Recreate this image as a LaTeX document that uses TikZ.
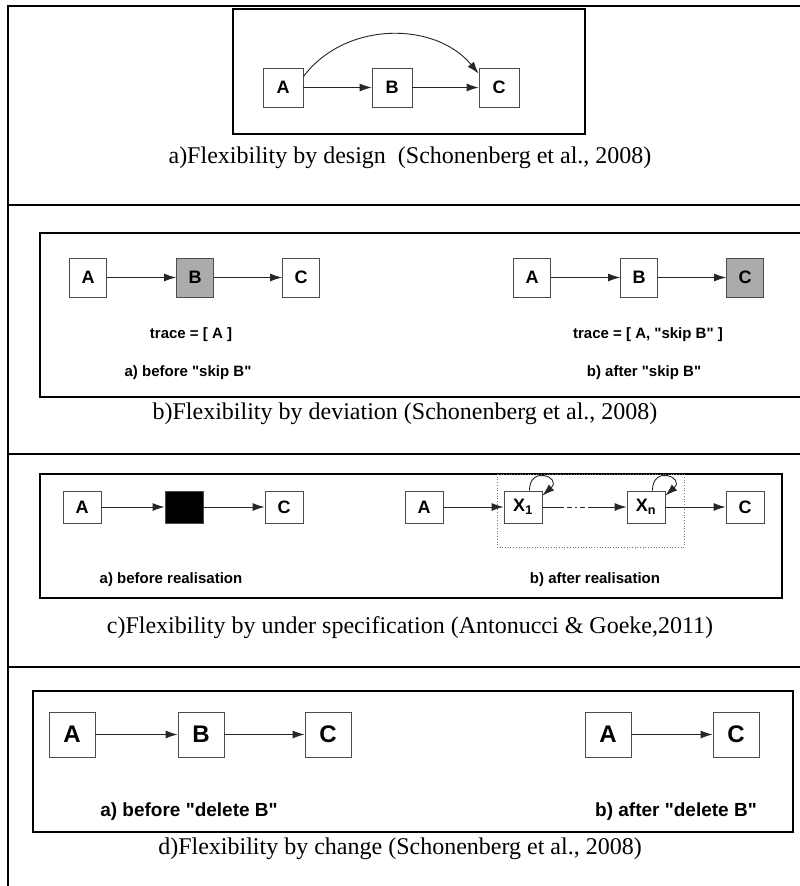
\documentclass[tikz,border=0pt]{standalone}
\usepackage{fontspec}
\setmainfont{Liberation Serif}
\setsansfont{Liberation Sans}
\newfontfamily\lblfont[Ligatures=TeXOff]{Liberation Sans}
\usetikzlibrary{arrows.meta}
\begin{document}
\begin{tikzpicture}[x=1pt,y=-1pt,
  tbl/.style={line width=2.4pt, black},
  panel/.style={line width=1.6pt, black},
  nd/.style={draw=black!70, line width=0.9pt, fill=white, minimum width=40pt, minimum height=39pt, inner sep=0pt, font=\lblfont\bfseries\fontsize{18}{18}\selectfont},
  ndb/.style={nd, minimum width=37pt, minimum height=39pt},
  ndc/.style={nd, minimum height=32pt, minimum width=38pt},
  ndd/.style={nd, minimum width=46pt, minimum height=45pt, font=\lblfont\bfseries\fontsize{24}{24}\selectfont},
  grayfill/.style={fill=black!33},
  arr/.style={-{Latex[length=12pt,width=8pt]}, line width=0.9pt, black!85},
  lbl/.style={font=\lblfont\bfseries\fontsize{15}{15}\selectfont},
  lbld/.style={font=\lblfont\bfseries\fontsize{19}{19}\selectfont},
  captxt/.style={font=\fontsize{24}{24}\selectfont}]
\useasboundingbox (0,0) rectangle (800,886);
\fill[white] (0,0) rectangle (800,886);
% table
\draw[tbl] (8,6) -- (800,6);
\draw[tbl] (8,5) -- (8,886);
\draw[tbl] (8,205) -- (800,205);
\draw[tbl] (8,454) -- (800,454);
\draw[tbl] (8,667) -- (800,667);

% ---------- panel a
\draw[panel] (233,9) rectangle (585,134);
\node[nd] (aA) at (283,87.5) {A};
\node[nd] (aB) at (392,87.5) {B};
\node[nd] (aC) at (499,87.5) {C};
\draw[arr] (aA) -- (aB);
\draw[arr] (aB) -- (aC);
\draw[arr] ([yshift=-9pt]aA.north east) .. controls (345,21) and (435,21) .. ([yshift=-6pt]aC.north west);
\node[captxt] (capa) at (410,158) {a)Flexibility by design\ \ (Schonenberg et al., 2008)};

% ---------- panel b
\draw[panel] (40,233) rectangle (803,397);
\node[ndb] (bA1) at (88,277.5) {A};
\node[ndb, grayfill] (bB1) at (195,277.5) {B};
\node[ndb] (bC1) at (301,277.5) {C};
\draw[arr] (bA1) -- (bB1);
\draw[arr] (bB1) -- (bC1);
\node[ndb] (bA2) at (532,277.5) {A};
\node[ndb] (bB2) at (639,277.5) {B};
\node[ndb, grayfill] (bC2) at (745,277.5) {C};
\draw[arr] (bA2) -- (bB2);
\draw[arr] (bB2) -- (bC2);
\node[lbl] (tr1) at (191,335) {trace = [ A ]};
\node[lbl] (tr2) at (648,335) {trace = [ A, "skip B" ]};
\node[lbl] (sb1) at (188,373) {a) before "skip B"};
\node[lbl] (sb2) at (644,373) {b) after "skip B"};
\node[captxt] (capb) at (405,414) {b)Flexibility by deviation (Schonenberg et al., 2008)};

% ---------- panel c
\draw[panel] (40,474) rectangle (782,598);
\draw[dotted, line width=0.7pt, black!55] (497,474) rectangle (684,547);
\node[ndc] (cA1) at (82,507) {A};
\node[ndc, fill=black] (cK) at (184,507) {};
\node[ndc] (cC1) at (284,507) {C};
\draw[arr] (cA1) -- (cK);
\draw[arr] (cK) -- (cC1);
\node[ndc] (cA2) at (424,507) {A};
\node[ndc] (cX1) at (523,507) {X\textsubscript{1}};
\node[ndc] (cXn) at (646,507) {X\textsubscript{n}};
\node[ndc] (cC2) at (745,507) {C};
\draw[arr] (cA2) -- (cX1);
\draw[arr, dash pattern=on 22pt off 3pt on 5pt off 3pt on 2pt off 3pt on 5pt off 3pt on 80pt] (cX1) -- (cXn);
\draw[arr] (cXn) -- (cC2);
\draw[arr] ([xshift=-13pt]cX1.north east) .. controls +(0,-26) and +(20,-18) .. ([yshift=-5pt]cX1.north east);
\draw[arr] ([xshift=-13pt]cXn.north east) .. controls +(0,-26) and +(20,-18) .. ([yshift=-5pt]cXn.north east);
\node[lbl] (rl1) at (171,580) {a) before realisation};
\node[lbl] (rl2) at (595,580) {b) after realisation};
\node[captxt] (capc) at (410,628) {c)Flexibility by under specification (Antonucci \& Goeke,2011)};

% ---------- panel d
\draw[panel] (33,691) rectangle (793,832);
\node[ndd] (dA1) at (72,734.5) {A};
\node[ndd] (dB1) at (201,734.5) {B};
\node[ndd] (dC1) at (328,734.5) {C};
\draw[arr] (dA1) -- (dB1);
\draw[arr] (dB1) -- (dC1);
\node[ndd] (dA2) at (608,734.5) {A};
\node[ndd] (dC2) at (736,734.5) {C};
\draw[arr] (dA2) -- (dC2);
\node[lbld] (dl1) at (189,812) {a) before "delete B"};
\node[lbld] (dl2) at (676,812) {b) after "delete B"};
\node[captxt] (capd) at (400,849) {d)Flexibility by change (Schonenberg et al., 2008)};
\end{tikzpicture}
\end{document}
